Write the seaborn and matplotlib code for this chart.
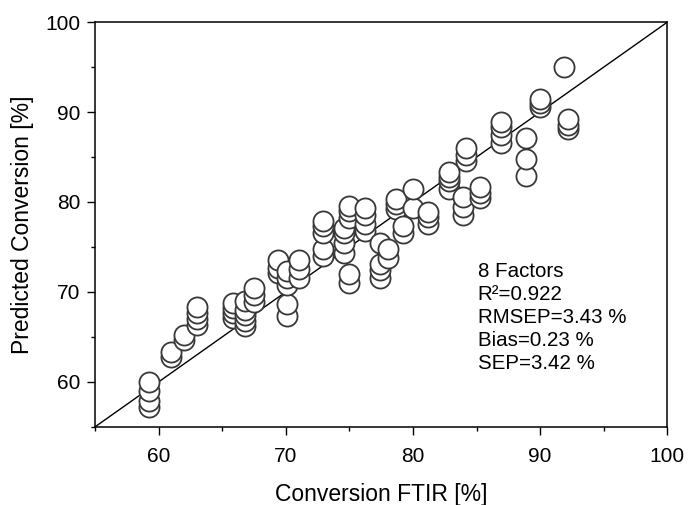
import matplotlib
matplotlib.use("Agg")
import matplotlib.pyplot as plt
import seaborn as sns
import pandas as pd
from matplotlib.ticker import MultipleLocator

# Data: (FTIR conversion, predicted conversion) grouped by sample
ftir_groups = [59.2, 61.0, 62.0, 63.0, 65.8, 66.8, 67.5, 69.4, 70.1, 71.0,
               72.9, 74.6, 75.0, 76.2, 77.4, 78.0, 78.7, 79.2, 80.0, 81.2,
               82.8, 83.9, 84.2, 85.3, 86.9, 88.9, 90.0, 91.9, 92.2]
predicted_groups = [
    [57.2, 57.9, 59.0, 60.0],
    [62.8, 63.3],
    [64.6, 65.2],
    [66.3, 67.0, 67.6, 68.3],
    [67.1, 67.6, 68.2, 68.8],
    [66.2, 66.8, 67.4, 68.0, 69.0],
    [68.9, 69.6, 70.4],
    [72.1, 72.7, 73.5],
    [67.3, 68.6, 70.8, 71.5, 72.3],
    [71.6, 72.5, 73.6],
    [74.0, 74.8, 76.6, 77.3, 77.9],
    [74.3, 75.4, 76.5, 77.1],
    [71.0, 72.0, 78.2, 79.0, 79.5],
    [76.8, 77.6, 78.5, 79.3],
    [71.6, 72.4, 73.1, 75.4],
    [73.8, 74.8],
    [79.2, 79.8, 80.3],
    [76.6, 77.3],
    [79.3, 81.5],
    [77.6, 78.3, 78.9],
    [81.5, 82.3, 82.8, 83.3],
    [78.5, 79.4, 80.6],
    [84.6, 85.2, 86.0],
    [80.4, 81.0, 81.7],
    [86.6, 87.5, 88.3, 88.9],
    [82.9, 84.8, 87.1],
    [90.6, 91.0, 91.5],
    [95.0],
    [88.1, 88.6, 89.2],
]

stats_lines = ["8 Factors", "R\u00b2=0.922", "RMSEP=3.43 %", "Bias=0.23 %", "SEP=3.42 %"]
x_label = "Conversion FTIR [%]"
y_label = "Predicted Conversion [%]"
axis_min, axis_max = 55, 100

ftir, predicted = [], []
for xv, ys in zip(ftir_groups, predicted_groups):
    for yv in ys:
        ftir.append(xv)
        predicted.append(yv)
df = pd.DataFrame({"ftir": ftir, "predicted": predicted})

sns.set_theme(style="ticks")
plt.rcParams["font.family"] = ["Liberation Sans", "DejaVu Sans"]

fig = plt.figure(figsize=(6.9, 5.05), dpi=100)
ax = fig.add_axes([0.138, 0.155, 0.829, 0.801])

ax.plot([axis_min, axis_max], [axis_min, axis_max], color="black", lw=1.0, zorder=1)
sns.scatterplot(data=df, x="ftir", y="predicted", ax=ax, s=210, marker="o",
                facecolor="white", edgecolor="#383838", linewidth=1.3, zorder=3)

ax.set_xlim(axis_min, axis_max)
ax.set_ylim(axis_min, axis_max)
ax.xaxis.set_major_locator(MultipleLocator(10))
ax.yaxis.set_major_locator(MultipleLocator(10))
ax.xaxis.set_minor_locator(MultipleLocator(5))
ax.yaxis.set_minor_locator(MultipleLocator(5))
ax.tick_params(which="major", direction="out", length=5.5, width=1.0, labelsize=15,
               color="black", labelcolor="black")
ax.tick_params(axis="x", which="major", pad=9)
ax.tick_params(axis="y", which="major", pad=5)
ax.tick_params(which="minor", direction="out", length=3.2, width=1.0, color="black")
for sp in ax.spines.values():
    sp.set_visible(True)
    sp.set_color("black")
    sp.set_linewidth(1.1)

ax.set_xlabel(x_label, fontsize=16.5, color="black", labelpad=12)
ax.set_ylabel(y_label, fontsize=16.5, color="black", labelpad=8)

ax.text(85.1, 73.3, "\n".join(stats_lines), fontsize=14.8, color="black",
        ha="left", va="top", linespacing=1.27)

fig.savefig("out.png", dpi=100)
